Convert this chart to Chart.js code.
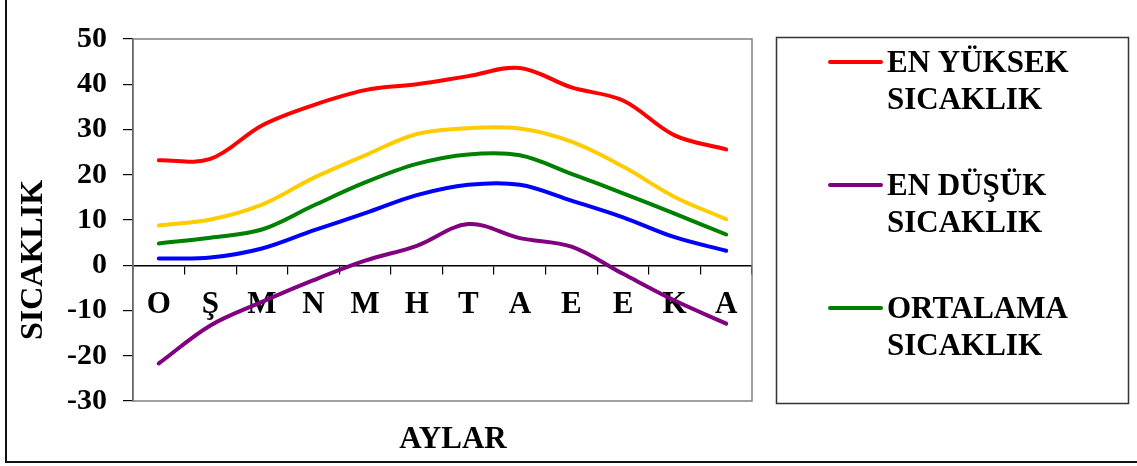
<!DOCTYPE html>
<html>
<head>
<meta charset="utf-8">
<script src="https://cdn.jsdelivr.net/npm/chart.js@4.4.0/dist/chart.umd.min.js"></script>
<style>
  html, body { margin: 0; padding: 0; background: #fff; }
  #wrap { width: 1137px; height: 466px; position: relative; }
</style>
</head>
<body>
<div id="wrap"><canvas id="c" width="1137" height="466"></canvas></div>
<script>
const months = ["O", "Ş", "M", "N", "M", "H", "T", "A", "E", "E", "K", "A"];
const yTicks = [50, 40, 30, 20, 10, 0, -10, -20, -30];
const maxTemp = [23.2, 23.5, 30.9, 35.4, 38.7, 40.0, 41.8, 43.6, 39.3, 36.4, 28.7, 25.6];
const highAvg = [8.8, 10.1, 13.4, 19.3, 24.3, 29.0, 30.3, 30.2, 27.3, 21.8, 15.1, 10.2];
const meanTemp = [4.8, 6.1, 7.9, 13.2, 18.3, 22.4, 24.5, 24.3, 20.2, 15.9, 11.4, 6.8];
const lowAvg = [1.5, 1.7, 3.7, 7.7, 11.5, 15.5, 17.8, 17.8, 14.3, 10.6, 6.2, 3.2];
const minTemp = [-21.7, -13.3, -8.1, -3.3, 1.0, 4.3, 9.1, 6.0, 4.1, -1.9, -7.8, -12.9];
const legendLabels = [["EN YÜKSEK", "SICAKLIK"], ["EN DÜŞÜK", "SICAKLIK"], ["ORTALAMA", "SICAKLIK"]];
const legendOrder = [0, 4, 2];
const yTitle = "SICAKLIK";
const xTitle = "AYLAR";

const SERIF = "'Liberation Serif', 'Times New Roman', serif";

const mk = (label, data, color) => ({
  label, data, borderColor: color, backgroundColor: color,
  borderWidth: 4, pointRadius: 0, tension: 0.35, fill: false,
  borderCapStyle: 'round', borderJoinStyle: 'round'
});

const decor = {
  id: 'decor',
  beforeDraw(chart) {
    const ctx = chart.ctx;
    ctx.save();
    ctx.fillStyle = '#fff';
    ctx.fillRect(0, 0, chart.width, chart.height);
    ctx.restore();
  },
  beforeDatasetsDraw(chart) {
    const ctx = chart.ctx, a = chart.chartArea;
    ctx.save();
    ctx.strokeStyle = '#808080';
    ctx.lineWidth = 1.5;
    ctx.strokeRect(a.left, a.top, a.right - a.left, a.bottom - a.top);
    ctx.restore();
  },
  afterDraw(chart) {
    const ctx = chart.ctx;
    ctx.save();
    // outer frame (left & bottom)
    ctx.strokeStyle = '#111';
    ctx.lineWidth = 2;
    ctx.beginPath();
    ctx.moveTo(6, 0); ctx.lineTo(6, 462); ctx.lineTo(1137, 462);
    ctx.stroke();
    // x axis title
    ctx.fillStyle = '#000';
    ctx.font = "bold 31px " + SERIF;
    ctx.textAlign = 'center';
    ctx.textBaseline = 'middle';
    ctx.fillText(xTitle, 453, 440);
    // y axis title
    ctx.save();
    ctx.translate(34, 260);
    ctx.rotate(-Math.PI / 2);
    ctx.font = "bold 32px " + SERIF;
    ctx.fillText(yTitle, 0, 0);
    ctx.restore();
    // legend box
    ctx.strokeStyle = '#333';
    ctx.lineWidth = 1.5;
    ctx.strokeRect(776.5, 37.5, 352, 366);
    const ys = [62, 185, 308];
    ctx.font = "bold 31px " + SERIF;
    ctx.textAlign = 'left';
    ctx.textBaseline = 'middle';
    legendOrder.forEach((di, i) => {
      const d = chart.data.datasets[di];
      const y = ys[i];
      ctx.strokeStyle = d.borderColor;
      ctx.lineWidth = 4;
      ctx.lineCap = 'round';
      ctx.beginPath();
      ctx.moveTo(830, y); ctx.lineTo(881, y);
      ctx.stroke();
      ctx.fillStyle = '#000';
      legendLabels[i].forEach((t, j) => ctx.fillText(t, 887, y + 2 + j * 37));
    });
    ctx.restore();
  }
};

new Chart(document.getElementById('c'), {
  type: 'line',
  data: {
    labels: months,
    datasets: [
      mk('EN YÜKSEK SICAKLIK', maxTemp, '#FF0000'),
      mk('', highAvg, '#FFCC00'),
      mk('ORTALAMA SICAKLIK', meanTemp, '#008000'),
      mk('', lowAvg, '#0000FF'),
      mk('EN DÜŞÜK SICAKLIK', minTemp, '#800080')
    ]
  },
  options: {
    responsive: false,
    animation: false,
    devicePixelRatio: 1,
    layout: { padding: { left: 0, top: 39, right: 385, bottom: 65 } },
    plugins: { legend: { display: false }, tooltip: { enabled: false } },
    scales: {
      x: {
        position: { y: 0 },
        offset: true,
        grid: { display: true, drawOnChartArea: false, drawTicks: true, tickLength: 8, color: '#000', offset: true, lineWidth: 1.2 },
        border: { display: true, color: '#000', width: 1.5 },
        ticks: { color: '#000', font: { family: SERIF, size: 31, weight: 'bold' }, padding: 13, maxRotation: 0, autoSkip: false }
      },
      y: {
        min: -30, max: 50,
        afterFit(scale) { scale.width = 133; },
        afterBuildTicks(scale) { scale.ticks = yTicks.map(v => ({ value: v })); },
        grid: { display: true, drawOnChartArea: false, drawTicks: true, tickLength: 10, color: '#000', lineWidth: 1.2 },
        border: { display: true, color: '#222', width: 1.5 },
        ticks: { color: '#000', font: { family: SERIF, size: 30, weight: 'bold' }, padding: 16 }
      }
    }
  },
  plugins: [decor]
});
</script>
</body>
</html>
